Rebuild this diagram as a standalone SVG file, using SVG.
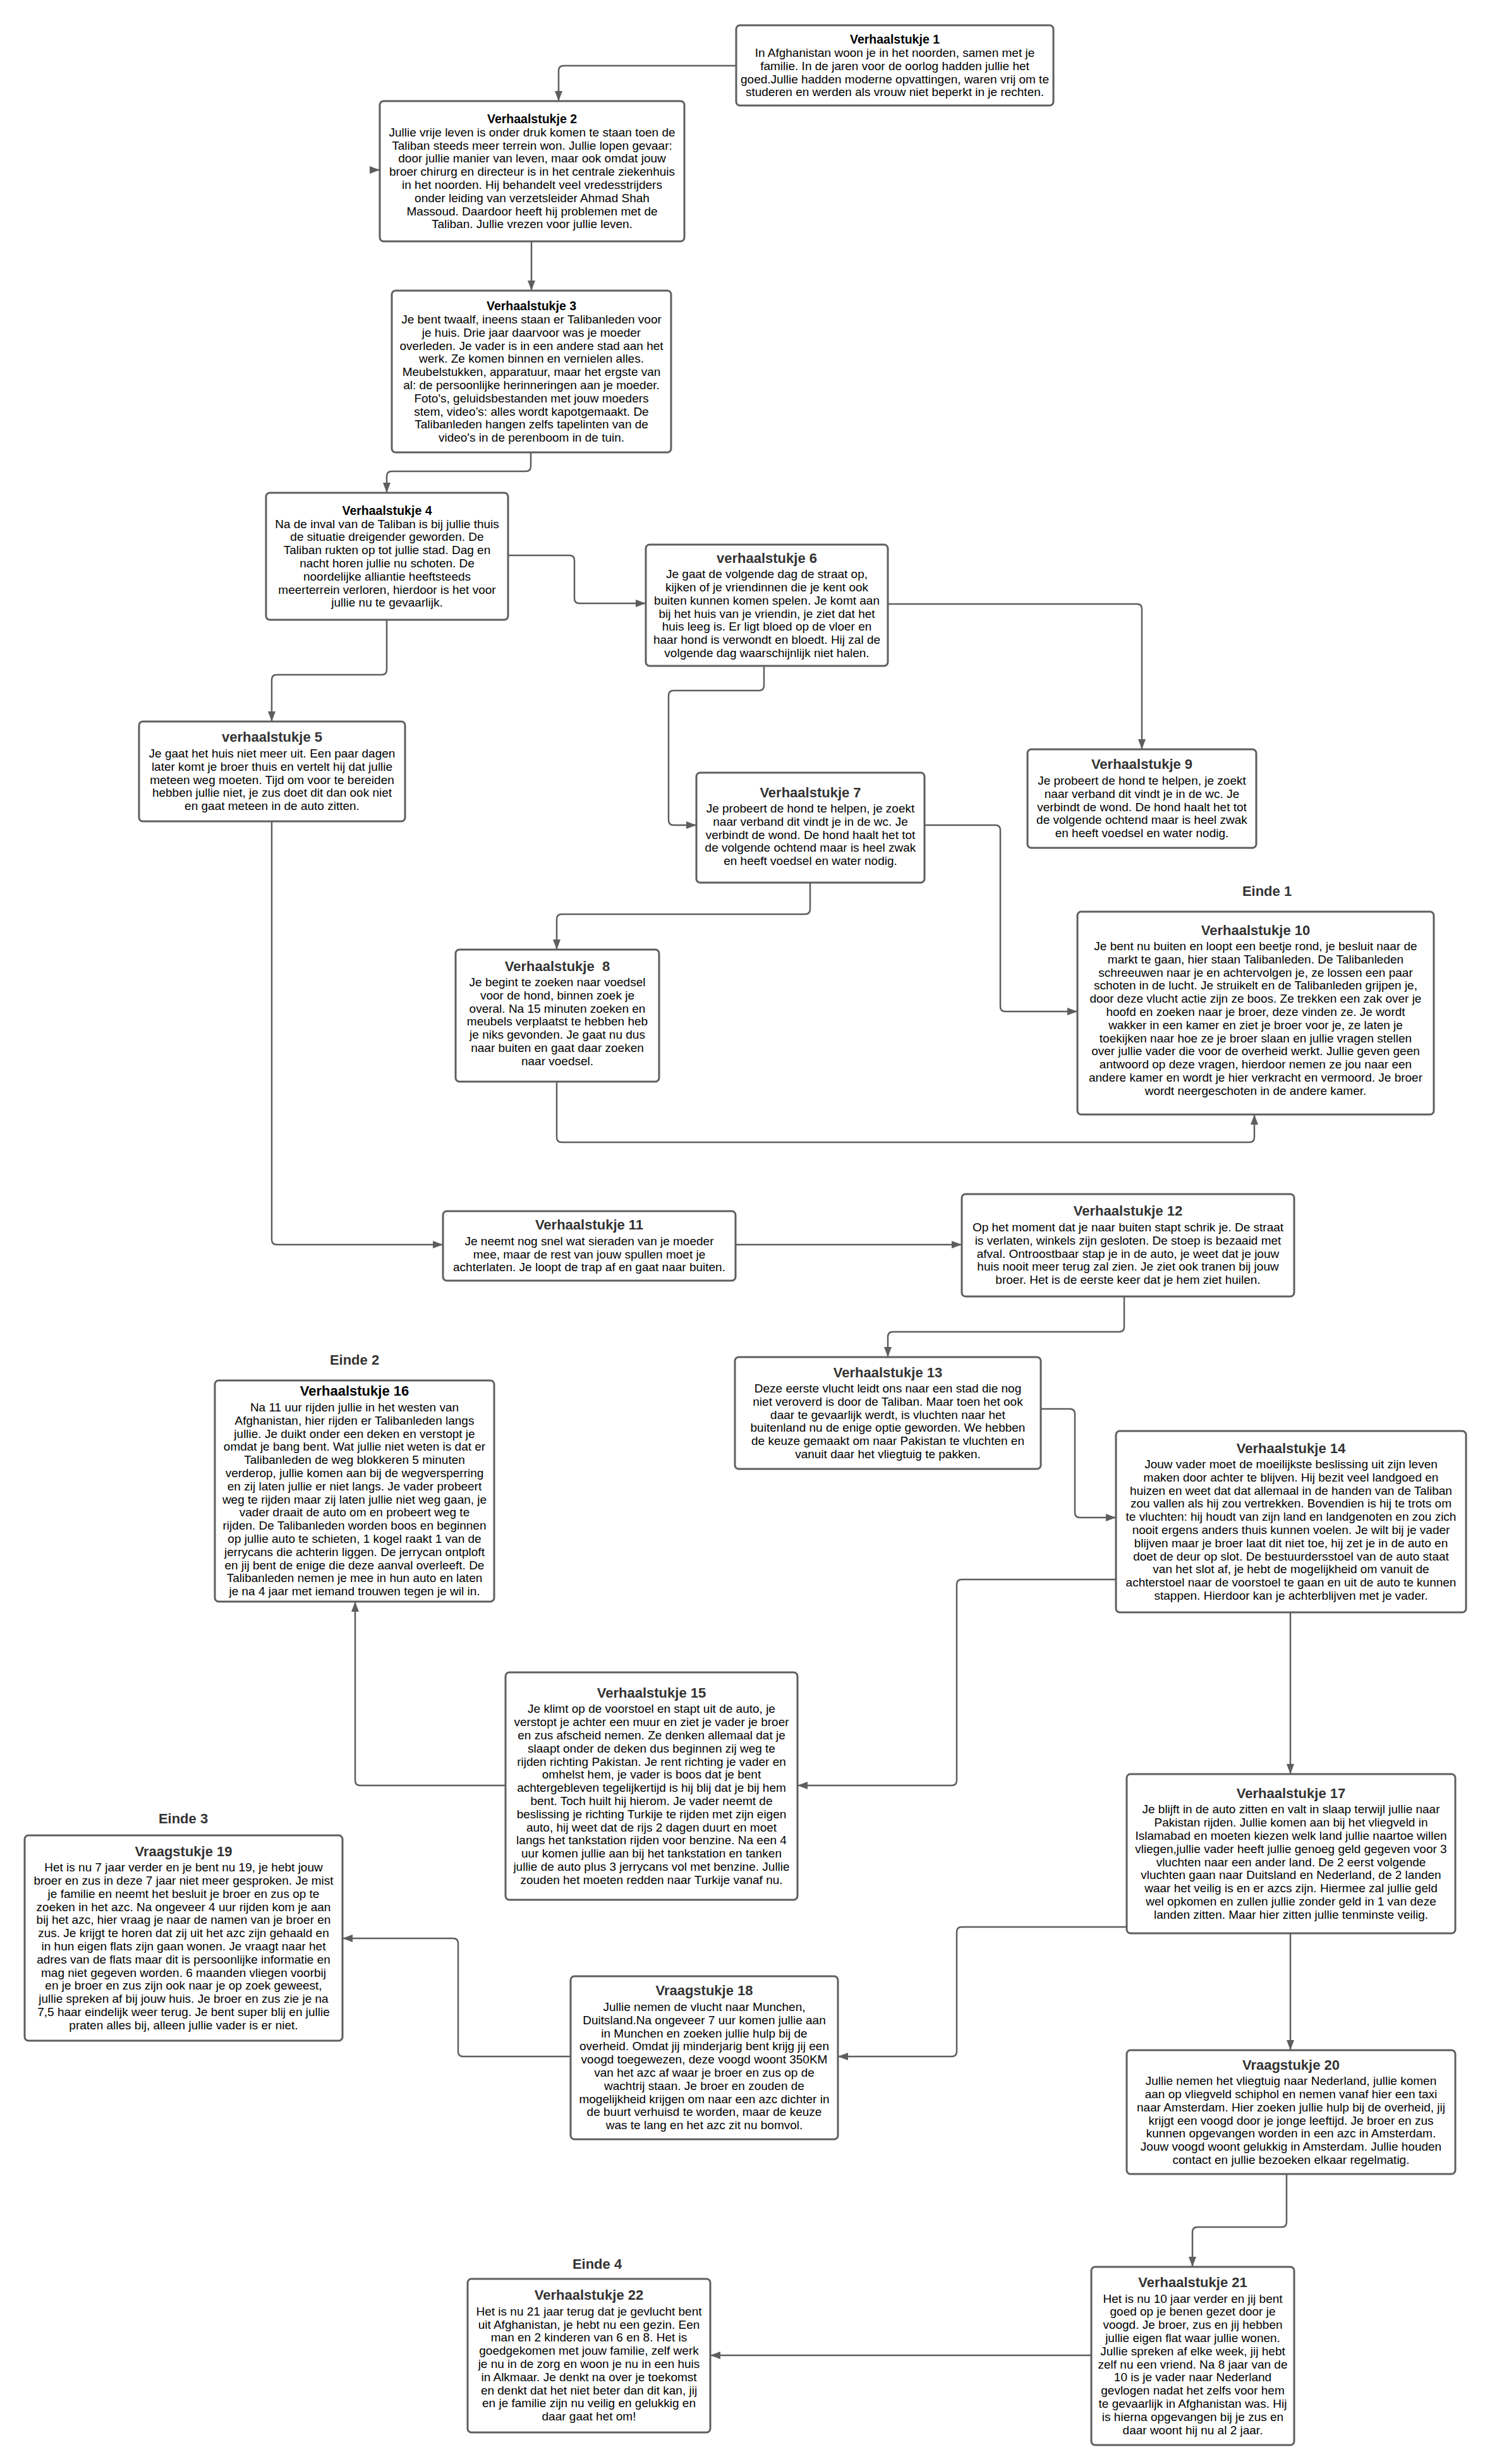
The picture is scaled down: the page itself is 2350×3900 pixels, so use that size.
<svg xmlns="http://www.w3.org/2000/svg" width="2350" height="3900" viewBox="0 0 2350 3900">
<style>
.box{fill:#fff;stroke:#5e5e5e;stroke-width:3}
.tt{font-family:"Liberation Sans",Arial,sans-serif;font-weight:bold;font-size:22px;fill:#333;text-anchor:middle;dominant-baseline:central}
.tk{fill:#000;font-size:19.5px}
.tb{fill:#000}
.bd{font-family:"Liberation Sans",Arial,sans-serif;font-size:19px;fill:#000;text-anchor:middle;dominant-baseline:central}
.end{font-family:"Liberation Sans",Arial,sans-serif;font-weight:bold;font-size:22px;fill:#333;text-anchor:middle;dominant-baseline:central}
.conn{fill:none;stroke:#5e5e5e;stroke-width:2.5;marker-end:url(#arr)}
</style>
<defs>
<marker id="arr" markerUnits="userSpaceOnUse" markerWidth="16" markerHeight="12" refX="16" refY="6" orient="auto">
<path d="M0,0 L16,6 L0,12 z" fill="#5e5e5e"/>
</marker>
</defs>
<rect width="2350" height="3900" fill="#fff"/>

<g id="connectors">
<path class="conn" d="M1165,104 H892 Q884,104 884,112 V160"/>
<path class="conn" d="M588,269 H601"/>
<path class="conn" d="M841,382 V460"/>
<path class="conn" d="M840,716 V738 Q840,746 832,746 H620 Q612,746 612,754 V780"/>
<path class="conn" d="M804,879 H901 Q909,879 909,887 V947 Q909,955 917,955 H1022"/>
<path class="conn" d="M612,981 V1060 Q612,1068 604,1068 H438 Q430,1068 430,1076 V1142"/>
<path class="conn" d="M1209,1054 V1085 Q1209,1093 1201,1093 H1066 Q1058,1093 1058,1101 V1298 Q1058,1306 1066,1306 H1102"/>
<path class="conn" d="M1404,956 H1799 Q1807,956 1807,964 V1186"/>
<path class="conn" d="M1463,1306 H1575 Q1583,1306 1583,1314 V1593 Q1583,1601 1591,1601 H1705"/>
<path class="conn" d="M1282,1397 V1439 Q1282,1447 1274,1447 H889 Q881,1447 881,1455 V1503"/>
<path class="conn" d="M881,1712 V1800 Q881,1808 889,1808 H1977 Q1985,1808 1985,1800 V1764"/>
<path class="conn" d="M430,1300 V1962 Q430,1970 438,1970 H701"/>
<path class="conn" d="M1164,1970 H1522"/>
<path class="conn" d="M1779,2052 V2100 Q1779,2108 1771,2108 H1413 Q1405,2108 1405,2116 V2148"/>
<path class="conn" d="M1647,2230 H1693 Q1701,2230 1701,2238 V2394 Q1701,2402 1709,2402 H1766"/>
<path class="conn" d="M1766,2500 H1522 Q1514,2500 1514,2508 V2818 Q1514,2826 1506,2826 H1262"/>
<path class="conn" d="M2042,2552 V2808"/>
<path class="conn" d="M800,2826 H570 Q562,2826 562,2818 V2535"/>
<path class="conn" d="M1783,3050 H1522 Q1514,3050 1514,3058 V3247 Q1514,3255 1506,3255 H1326"/>
<path class="conn" d="M2042,3060 V3245"/>
<path class="conn" d="M903,3255 H733 Q725,3255 725,3247 V3076 Q725,3068 717,3068 H542"/>
<path class="conn" d="M2036,3441 V3517 Q2036,3525 2028,3525 H1895 Q1887,3525 1887,3533 V3588"/>
<path class="conn" d="M1727,3728 H1124"/>
</g>

<g id="v1">
<rect class="box" x="1165" y="40" width="502" height="127" rx="6"/>
<text class="tt tk" x="1416" y="62">Verhaalstukje 1</text>
<text class="bd"><tspan x="1416" y="83">In Afghanistan woon je in het noorden, samen met je</tspan><tspan x="1416" dy="20.8">familie. In de jaren voor de oorlog hadden jullie het</tspan><tspan x="1416" dy="20.8">goed.Jullie hadden moderne opvattingen, waren vrij om te</tspan><tspan x="1416" dy="20.8">studeren en werden als vrouw niet beperkt in je rechten.</tspan></text>
</g>

<g id="v2">
<rect class="box" x="601" y="160" width="482" height="222" rx="6"/>
<text class="tt tk" x="842" y="187.7">Verhaalstukje 2</text>
<text class="bd"><tspan x="842" y="208.7">Jullie vrije leven is onder druk komen te staan toen de</tspan><tspan x="842" dy="20.8">Taliban steeds meer terrein won. Jullie lopen gevaar:</tspan><tspan x="842" dy="20.8">door jullie manier van leven, maar ook omdat jouw</tspan><tspan x="842" dy="20.8">broer chirurg en directeur is in het centrale ziekenhuis</tspan><tspan x="842" dy="20.8">in het noorden. Hij behandelt veel vredesstrijders</tspan><tspan x="842" dy="20.8">onder leiding van verzetsleider Ahmad Shah</tspan><tspan x="842" dy="20.8">Massoud. Daardoor heeft hij problemen met de</tspan><tspan x="842" dy="20.8">Taliban. Jullie vrezen voor jullie leven.</tspan></text>
</g>

<g id="v3">
<rect class="box" x="620" y="460" width="442" height="256" rx="6"/>
<text class="tt tk" x="841" y="483.9">Verhaalstukje 3</text>
<text class="bd"><tspan x="841" y="504.9">Je bent twaalf, ineens staan er Talibanleden voor</tspan><tspan x="841" dy="20.8">je huis. Drie jaar daarvoor was je moeder</tspan><tspan x="841" dy="20.8">overleden. Je vader is in een andere stad aan het</tspan><tspan x="841" dy="20.8">werk. Ze komen binnen en vernielen alles.</tspan><tspan x="841" dy="20.8">Meubelstukken, apparatuur, maar het ergste van</tspan><tspan x="841" dy="20.8">al: de persoonlijke herinneringen aan je moeder.</tspan><tspan x="841" dy="20.8">Foto's, geluidsbestanden met jouw moeders</tspan><tspan x="841" dy="20.8">stem, video’s: alles wordt kapotgemaakt. De</tspan><tspan x="841" dy="20.8">Talibanleden hangen zelfs tapelinten van de</tspan><tspan x="841" dy="20.8">video's in de perenboom in de tuin.</tspan></text>
</g>

<g id="v4">
<rect class="box" x="421" y="780" width="383" height="201" rx="6"/>
<text class="tt tk" x="612.5" y="807.6">Verhaalstukje 4</text>
<text class="bd"><tspan x="612.5" y="828.6">Na de inval van de Taliban is bij jullie thuis</tspan><tspan x="612.5" dy="20.8">de situatie dreigender geworden. De</tspan><tspan x="612.5" dy="20.8">Taliban rukten op tot jullie stad. Dag en</tspan><tspan x="612.5" dy="20.8">nacht horen jullie nu schoten. De</tspan><tspan x="612.5" dy="20.8">noordelijke alliantie heeftsteeds</tspan><tspan x="612.5" dy="20.8">meerterrein verloren, hierdoor is het voor</tspan><tspan x="612.5" dy="20.8">jullie nu te gevaarlijk.</tspan></text>
</g>

<g id="v6">
<rect class="box" x="1022" y="862" width="383" height="192" rx="6"/>
<text class="tt" x="1213.5" y="883.1">verhaalstukje 6</text>
<text class="bd"><tspan x="1213.5" y="908.1">Je gaat de volgende dag de straat op,</tspan><tspan x="1213.5" dy="20.8">kijken of je vriendinnen die je kent ook</tspan><tspan x="1213.5" dy="20.8">buiten kunnen komen spelen. Je komt aan</tspan><tspan x="1213.5" dy="20.8">bij het huis van je vriendin, je ziet dat het</tspan><tspan x="1213.5" dy="20.8">huis leeg is. Er ligt bloed op de vloer en</tspan><tspan x="1213.5" dy="20.8">haar hond is verwondt en bloedt. Hij zal de</tspan><tspan x="1213.5" dy="20.8">volgende dag waarschijnlijk niet halen.</tspan></text>
</g>

<g id="v5">
<rect class="box" x="220" y="1142" width="421" height="158" rx="6"/>
<text class="tt" x="430.5" y="1166.9">verhaalstukje 5</text>
<text class="bd"><tspan x="430.5" y="1191.9">Je gaat het huis niet meer uit. Een paar dagen</tspan><tspan x="430.5" dy="20.8">later komt je broer thuis en vertelt hij dat jullie</tspan><tspan x="430.5" dy="20.8">meteen weg moeten. Tijd om voor te bereiden</tspan><tspan x="430.5" dy="20.8">hebben jullie niet, je zus doet dit dan ook niet</tspan><tspan x="430.5" dy="20.8">en gaat meteen in de auto zitten.</tspan></text>
</g>

<g id="v7">
<rect class="box" x="1102" y="1223" width="361" height="174" rx="6"/>
<text class="tt" x="1282.5" y="1254">Verhaalstukje 7</text>
<text class="bd"><tspan x="1282.5" y="1279">Je probeert de hond te helpen, je zoekt</tspan><tspan x="1282.5" dy="20.8">naar verband dit vindt je in de wc. Je</tspan><tspan x="1282.5" dy="20.8">verbindt de wond. De hond haalt het tot</tspan><tspan x="1282.5" dy="20.8">de volgende ochtend maar is heel zwak</tspan><tspan x="1282.5" dy="20.8">en heeft voedsel en water nodig.</tspan></text>
</g>

<g id="v9">
<rect class="box" x="1626" y="1186" width="362" height="156" rx="6"/>
<text class="tt" x="1807" y="1209.9">Verhaalstukje 9</text>
<text class="bd"><tspan x="1807" y="1234.9">Je probeert de hond te helpen, je zoekt</tspan><tspan x="1807" dy="20.8">naar verband dit vindt je in de wc. Je</tspan><tspan x="1807" dy="20.8">verbindt de wond. De hond haalt het tot</tspan><tspan x="1807" dy="20.8">de volgende ochtend maar is heel zwak</tspan><tspan x="1807" dy="20.8">en heeft voedsel en water nodig.</tspan></text>
</g>

<g id="einde1">
<text class="end" x="2005" y="1410">Einde 1</text>
</g>

<g id="v10">
<rect class="box" x="1705" y="1443" width="564" height="321" rx="6"/>
<text class="tt" x="1987" y="1472">Verhaalstukje 10</text>
<text class="bd"><tspan x="1987" y="1497">Je bent nu buiten en loopt een beetje rond, je besluit naar de</tspan><tspan x="1987" dy="20.8">markt te gaan, hier staan Talibanleden. De Talibanleden</tspan><tspan x="1987" dy="20.8">schreeuwen naar je en achtervolgen je, ze lossen een paar</tspan><tspan x="1987" dy="20.8">schoten in de lucht. Je struikelt en de Talibanleden grijpen je,</tspan><tspan x="1987" dy="20.8">door deze vlucht actie zijn ze boos. Ze trekken een zak over je</tspan><tspan x="1987" dy="20.8">hoofd en zoeken naar je broer, deze vinden ze. Je wordt</tspan><tspan x="1987" dy="20.8">wakker in een kamer en ziet je broer voor je, ze laten je</tspan><tspan x="1987" dy="20.8">toekijken naar hoe ze je broer slaan en jullie vragen stellen</tspan><tspan x="1987" dy="20.8">over jullie vader die voor de overheid werkt. Jullie geven geen</tspan><tspan x="1987" dy="20.8">antwoord op deze vragen, hierdoor nemen ze jou naar een</tspan><tspan x="1987" dy="20.8">andere kamer en wordt je hier verkracht en vermoord. Je broer</tspan><tspan x="1987" dy="20.8">wordt neergeschoten in de andere kamer.</tspan></text>
</g>

<g id="v8">
<rect class="box" x="721" y="1503" width="322" height="209" rx="6"/>
<text class="tt" x="882" y="1529" xml:space="preserve">Verhaalstukje  8</text>
<text class="bd"><tspan x="882" y="1554">Je begint te zoeken naar voedsel</tspan><tspan x="882" dy="20.8">voor de hond, binnen zoek je</tspan><tspan x="882" dy="20.8">overal. Na 15 minuten zoeken en</tspan><tspan x="882" dy="20.8">meubels verplaatst te hebben heb</tspan><tspan x="882" dy="20.8">je niks gevonden. Je gaat nu dus</tspan><tspan x="882" dy="20.8">naar buiten en gaat daar zoeken</tspan><tspan x="882" dy="20.8">naar voedsel.</tspan></text>
</g>

<g id="v11">
<rect class="box" x="701" y="1917" width="463" height="110" rx="6"/>
<text class="tt" x="932.5" y="1938.7">Verhaalstukje 11</text>
<text class="bd"><tspan x="932.5" y="1963.7">Je neemt nog snel wat sieraden van je moeder</tspan><tspan x="932.5" dy="20.8">mee, maar de rest van jouw spullen moet je</tspan><tspan x="932.5" dy="20.8">achterlaten. Je loopt de trap af en gaat naar buiten.</tspan></text>
</g>

<g id="v12">
<rect class="box" x="1522" y="1890" width="526" height="162" rx="6"/>
<text class="tt" x="1785" y="1916.9">Verhaalstukje 12</text>
<text class="bd"><tspan x="1785" y="1941.9">Op het moment dat je naar buiten stapt schrik je. De straat</tspan><tspan x="1785" dy="20.8">is verlaten, winkels zijn gesloten. De stoep is bezaaid met</tspan><tspan x="1785" dy="20.8">afval. Ontroostbaar stap je in de auto, je weet dat je jouw</tspan><tspan x="1785" dy="20.8">huis nooit meer terug zal zien. Je ziet ook tranen bij jouw</tspan><tspan x="1785" dy="20.8">broer. Het is de eerste keer dat je hem ziet huilen.</tspan></text>
</g>

<g id="v13">
<rect class="box" x="1163" y="2148" width="484" height="177" rx="6"/>
<text class="tt" x="1405" y="2172">Verhaalstukje 13</text>
<text class="bd"><tspan x="1405" y="2197">Deze eerste vlucht leidt ons naar een stad die nog</tspan><tspan x="1405" dy="20.8">niet veroverd is door de Taliban. Maar toen het ook</tspan><tspan x="1405" dy="20.8">daar te gevaarlijk werdt, is vluchten naar het</tspan><tspan x="1405" dy="20.8">buitenland nu de enige optie geworden. We hebben</tspan><tspan x="1405" dy="20.8">de keuze gemaakt om naar Pakistan te vluchten en</tspan><tspan x="1405" dy="20.8">vanuit daar het vliegtuig te pakken.</tspan></text>
</g>

<g id="einde2">
<text class="end" x="561" y="2152">Einde 2</text>
</g>

<g id="v16">
<rect class="box" x="340" y="2185" width="442" height="350" rx="6"/>
<text class="tt tb" x="561" y="2201.9">Verhaalstukje 16</text>
<text class="bd"><tspan x="561" y="2226.9">Na 11 uur rijden jullie in het westen van</tspan><tspan x="561" dy="20.8">Afghanistan, hier rijden er Talibanleden langs</tspan><tspan x="561" dy="20.8">jullie. Je duikt onder een deken en verstopt je</tspan><tspan x="561" dy="20.8">omdat je bang bent. Wat jullie niet weten is dat er</tspan><tspan x="561" dy="20.8">Talibanleden de weg blokkeren 5 minuten</tspan><tspan x="561" dy="20.8">verderop, jullie komen aan bij de wegversperring</tspan><tspan x="561" dy="20.8">en zij laten jullie er niet langs. Je vader probeert</tspan><tspan x="561" dy="20.8">weg te rijden maar zij laten jullie niet weg gaan, je</tspan><tspan x="561" dy="20.8">vader draait de auto om en probeert weg te</tspan><tspan x="561" dy="20.8">rijden. De Talibanleden worden boos en beginnen</tspan><tspan x="561" dy="20.8">op jullie auto te schieten, 1 kogel raakt 1 van de</tspan><tspan x="561" dy="20.8">jerrycans die achterin liggen. De jerrycan ontploft</tspan><tspan x="561" dy="20.8">en jij bent de enige die deze aanval overleeft. De</tspan><tspan x="561" dy="20.8">Talibanleden nemen je mee in hun auto en laten</tspan><tspan x="561" dy="20.8">je na 4 jaar met iemand trouwen tegen je wil in.</tspan></text>
</g>

<g id="v14">
<rect class="box" x="1766" y="2265" width="554" height="287" rx="6"/>
<text class="tt" x="2043" y="2292">Verhaalstukje 14</text>
<text class="bd"><tspan x="2043" y="2317">Jouw vader moet de moeilijkste beslissing uit zijn leven</tspan><tspan x="2043" dy="20.8">maken door achter te blijven. Hij bezit veel landgoed en</tspan><tspan x="2043" dy="20.8">huizen en weet dat dat allemaal in de handen van de Taliban</tspan><tspan x="2043" dy="20.8">zou vallen als hij zou vertrekken. Bovendien is hij te trots om</tspan><tspan x="2043" dy="20.8">te vluchten: hij houdt van zijn land en landgenoten en zou zich</tspan><tspan x="2043" dy="20.8">nooit ergens anders thuis kunnen voelen. Je wilt bij je vader</tspan><tspan x="2043" dy="20.8">blijven maar je broer laat dit niet toe, hij zet je in de auto en</tspan><tspan x="2043" dy="20.8">doet de deur op slot. De bestuurdersstoel van de auto staat</tspan><tspan x="2043" dy="20.8">van het slot af, je hebt de mogelijkheid om vanuit de</tspan><tspan x="2043" dy="20.8">achterstoel naar de voorstoel te gaan en uit de auto te kunnen</tspan><tspan x="2043" dy="20.8">stappen. Hierdoor kan je achterblijven met je vader.</tspan></text>
</g>

<g id="v15">
<rect class="box" x="800" y="2647" width="462" height="360" rx="6"/>
<text class="tt" x="1031" y="2679.3">Verhaalstukje 15</text>
<text class="bd"><tspan x="1031" y="2704.3">Je klimt op de voorstoel en stapt uit de auto, je</tspan><tspan x="1031" dy="20.8">verstopt je achter een muur en ziet je vader je broer</tspan><tspan x="1031" dy="20.8">en zus afscheid nemen. Ze denken allemaal dat je</tspan><tspan x="1031" dy="20.8">slaapt onder de deken dus beginnen zij weg te</tspan><tspan x="1031" dy="20.8">rijden richting Pakistan. Je rent richting je vader en</tspan><tspan x="1031" dy="20.8">omhelst hem, je vader is boos dat je bent</tspan><tspan x="1031" dy="20.8">achtergebleven tegelijkertijd is hij blij dat je bij hem</tspan><tspan x="1031" dy="20.8">bent. Toch huilt hij hierom. Je vader neemt de</tspan><tspan x="1031" dy="20.8">beslissing je richting Turkije te rijden met zijn eigen</tspan><tspan x="1031" dy="20.8">auto, hij weet dat de rijs 2 dagen duurt en moet</tspan><tspan x="1031" dy="20.8">langs het tankstation rijden voor benzine. Na een 4</tspan><tspan x="1031" dy="20.8">uur komen jullie aan bij het tankstation en tanken</tspan><tspan x="1031" dy="20.8">jullie de auto plus 3 jerrycans vol met benzine. Jullie</tspan><tspan x="1031" dy="20.8">zouden het moeten redden naar Turkije vanaf nu.</tspan></text>
</g>

<g id="v17">
<rect class="box" x="1783" y="2808" width="520" height="252" rx="6"/>
<text class="tt" x="2043" y="2838.3">Verhaalstukje 17</text>
<text class="bd"><tspan x="2043" y="2863.3">Je blijft in de auto zitten en valt in slaap terwijl jullie naar</tspan><tspan x="2043" dy="20.8">Pakistan rijden. Jullie komen aan bij het vliegveld in</tspan><tspan x="2043" dy="20.8">Islamabad en moeten kiezen welk land jullie naartoe willen</tspan><tspan x="2043" dy="20.8">vliegen,jullie vader heeft jullie genoeg geld gegeven voor 3</tspan><tspan x="2043" dy="20.8">vluchten naar een ander land. De 2 eerst volgende</tspan><tspan x="2043" dy="20.8">vluchten gaan naar Duitsland en Nederland, de 2 landen</tspan><tspan x="2043" dy="20.8">waar het veilig is en er azcs zijn. Hiermee zal jullie geld</tspan><tspan x="2043" dy="20.8">wel opkomen en zullen jullie zonder geld in 1 van deze</tspan><tspan x="2043" dy="20.8">landen zitten. Maar hier zitten jullie tenminste veilig.</tspan></text>
</g>

<g id="einde3">
<text class="end" x="290" y="2878">Einde 3</text>
</g>

<g id="v19">
<rect class="box" x="39" y="2905" width="503" height="325" rx="6"/>
<text class="tt" x="290.5" y="2930.2">Vraagstukje 19</text>
<text class="bd"><tspan x="290.5" y="2955.2">Het is nu 7 jaar verder en je bent nu 19, je hebt jouw</tspan><tspan x="290.5" dy="20.8">broer en zus in deze 7 jaar niet meer gesproken. Je mist</tspan><tspan x="290.5" dy="20.8">je familie en neemt het besluit je broer en zus op te</tspan><tspan x="290.5" dy="20.8">zoeken in het azc. Na ongeveer 4 uur rijden kom je aan</tspan><tspan x="290.5" dy="20.8">bij het azc, hier vraag je naar de namen van je broer en</tspan><tspan x="290.5" dy="20.8">zus. Je krijgt te horen dat zij uit het azc zijn gehaald en</tspan><tspan x="290.5" dy="20.8">in hun eigen flats zijn gaan wonen. Je vraagt naar het</tspan><tspan x="290.5" dy="20.8">adres van de flats maar dit is persoonlijke informatie en</tspan><tspan x="290.5" dy="20.8">mag niet gegeven worden. 6 maanden vliegen voorbij</tspan><tspan x="290.5" dy="20.8">en je broer en zus zijn ook naar je op zoek geweest,</tspan><tspan x="290.5" dy="20.8">jullie spreken af bij jouw huis. Je broer en zus zie je na</tspan><tspan x="290.5" dy="20.8">7,5 haar eindelijk weer terug. Je bent super blij en jullie</tspan><tspan x="290.5" dy="20.8">praten alles bij, alleen jullie vader is er niet.</tspan></text>
</g>

<g id="v18">
<rect class="box" x="903" y="3128" width="423" height="258" rx="6"/>
<text class="tt" x="1114.5" y="3150.9">Vraagstukje 18</text>
<text class="bd"><tspan x="1114.5" y="3175.9">Jullie nemen de vlucht naar Munchen,</tspan><tspan x="1114.5" dy="20.8">Duitsland.Na ongeveer 7 uur komen jullie aan</tspan><tspan x="1114.5" dy="20.8">in Munchen en zoeken jullie hulp bij de</tspan><tspan x="1114.5" dy="20.8">overheid. Omdat jij minderjarig bent krijg jij een</tspan><tspan x="1114.5" dy="20.8">voogd toegewezen, deze voogd woont 350KM</tspan><tspan x="1114.5" dy="20.8">van het azc af waar je broer en zus op de</tspan><tspan x="1114.5" dy="20.8">wachtrij staan. Je broer en zouden de</tspan><tspan x="1114.5" dy="20.8">mogelijkheid krijgen om naar een azc dichter in</tspan><tspan x="1114.5" dy="20.8">de buurt verhuisd te worden, maar de keuze</tspan><tspan x="1114.5" dy="20.8">was te lang en het azc zit nu bomvol.</tspan></text>
</g>

<g id="v20">
<rect class="box" x="1783" y="3245" width="520" height="196" rx="6"/>
<text class="tt" x="2043" y="3268.1">Vraagstukje 20</text>
<text class="bd"><tspan x="2043" y="3293.1">Jullie nemen het vliegtuig naar Nederland, jullie komen</tspan><tspan x="2043" dy="20.8">aan op vliegveld schiphol en nemen vanaf hier een taxi</tspan><tspan x="2043" dy="20.8">naar Amsterdam. Hier zoeken jullie hulp bij de overheid, jij</tspan><tspan x="2043" dy="20.8">krijgt een voogd door je jonge leeftijd. Je broer en zus</tspan><tspan x="2043" dy="20.8">kunnen opgevangen worden in een azc in Amsterdam.</tspan><tspan x="2043" dy="20.8">Jouw voogd woont gelukkig in Amsterdam. Jullie houden</tspan><tspan x="2043" dy="20.8">contact en jullie bezoeken elkaar regelmatig.</tspan></text>
</g>

<g id="einde4">
<text class="end" x="945" y="3583">Einde 4</text>
</g>

<g id="v22">
<rect class="box" x="740" y="3607" width="384" height="243" rx="6"/>
<text class="tt" x="932" y="3632.8">Verhaalstukje 22</text>
<text class="bd"><tspan x="932" y="3657.8">Het is nu 21 jaar terug dat je gevlucht bent</tspan><tspan x="932" dy="20.8">uit Afghanistan, je hebt nu een gezin. Een</tspan><tspan x="932" dy="20.8">man en 2 kinderen van 6 en 8. Het is</tspan><tspan x="932" dy="20.8">goedgekomen met jouw familie, zelf werk</tspan><tspan x="932" dy="20.8">je nu in de zorg en woon je nu in een huis</tspan><tspan x="932" dy="20.8">in Alkmaar. Je denkt na over je toekomst</tspan><tspan x="932" dy="20.8">en denkt dat het niet beter dan dit kan, jij</tspan><tspan x="932" dy="20.8">en je familie zijn nu veilig en gelukkig en</tspan><tspan x="932" dy="20.8">daar gaat het om!</tspan></text>
</g>

<g id="v21">
<rect class="box" x="1727" y="3588" width="321" height="282" rx="6"/>
<text class="tt" x="1887.5" y="3612.5">Verhaalstukje 21</text>
<text class="bd"><tspan x="1887.5" y="3637.5">Het is nu 10 jaar verder en jij bent</tspan><tspan x="1887.5" dy="20.8">goed op je benen gezet door je</tspan><tspan x="1887.5" dy="20.8">voogd. Je broer, zus en jij hebben</tspan><tspan x="1887.5" dy="20.8">jullie eigen flat waar jullie wonen.</tspan><tspan x="1887.5" dy="20.8">Jullie spreken af elke week, jij hebt</tspan><tspan x="1887.5" dy="20.8">zelf nu een vriend. Na 8 jaar van de</tspan><tspan x="1887.5" dy="20.8">10 is je vader naar Nederland</tspan><tspan x="1887.5" dy="20.8">gevlogen nadat het zelfs voor hem</tspan><tspan x="1887.5" dy="20.8">te gevaarlijk in Afghanistan was. Hij</tspan><tspan x="1887.5" dy="20.8">is hierna opgevangen bij je zus en</tspan><tspan x="1887.5" dy="20.8">daar woont hij nu al 2 jaar.</tspan></text>
</g>
</svg>
